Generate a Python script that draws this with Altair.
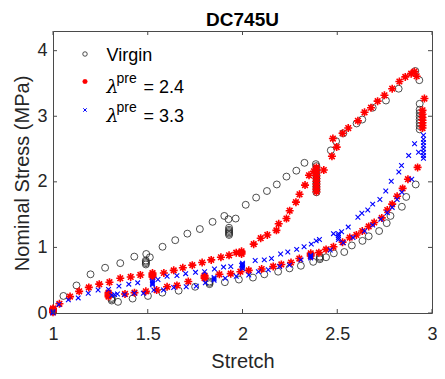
import altair as alt
import pandas as pd

# ---------------- data ----------------
virgin_x = [1.00, 1.055, 1.124, 1.198, 1.275, 1.355, 1.429, 1.492, 1.511,
            1.49, 1.49, 1.49, 1.49,
            1.578, 1.645, 1.709, 1.775, 1.842, 1.904, 1.926, 1.964,
            1.929, 1.929, 1.929, 1.929, 1.929, 1.929,
            2.017, 2.072, 2.129, 2.181, 2.232, 2.284, 2.327, 2.387,
            2.39, 2.39, 2.39, 2.39, 2.39, 2.39, 2.39, 2.39, 2.39, 2.39,
            2.466, 2.494, 2.532, 2.602, 2.632, 2.687, 2.757, 2.824, 2.912, 2.933,
            2.935, 2.935, 2.935, 2.935, 2.935, 2.935, 2.935, 2.935,
            2.914, 2.864, 2.841, 2.781, 2.761, 2.721, 2.666, 2.633, 2.577, 2.537, 2.482, 2.441,
            2.408, 2.408, 2.408,
            2.373, 2.308, 2.248, 2.188, 2.115, 2.055, 1.981, 1.907,
            1.826, 1.826, 1.826,
            1.750, 1.663, 1.577, 1.501, 1.420, 1.343,
            1.31, 1.31, 1.31]
virgin_y = [0.03, 0.26, 0.42, 0.59, 0.69, 0.76, 0.86, 0.90, 0.85,
            0.74, 0.76, 0.78, 0.80,
            1.01, 1.11, 1.21, 1.28, 1.39, 1.48, 1.43, 1.44,
            1.19, 1.21, 1.23, 1.25, 1.27, 1.30,
            1.65, 1.76, 1.86, 1.96, 2.08, 2.17, 2.29, 2.27,
            1.84, 1.88, 1.92, 1.96, 2.00, 2.05, 2.10, 2.15, 2.20, 2.24,
            2.48, 2.62, 2.74, 2.89, 2.95, 3.13, 3.24, 3.42, 3.69, 3.55,
            2.80, 2.85, 2.90, 2.95, 3.00, 3.05, 3.10, 3.19,
            1.96, 1.77, 1.62, 1.48, 1.37, 1.25, 1.17, 1.10, 1.03, 0.93, 0.91, 0.85,
            0.82, 0.84, 0.86,
            0.78, 0.72, 0.68, 0.63, 0.59, 0.54, 0.51, 0.47,
            0.44, 0.46, 0.48,
            0.40, 0.34, 0.31, 0.26, 0.22, 0.17,
            0.19, 0.21, 0.23]

pre24_x = [1.00, 1.00, 1.00, 1.00, 1.034, 1.09, 1.138, 1.189, 1.244, 1.298, 1.355, 1.41, 1.461,
           1.525, 1.525, 1.525, 1.525,
           1.585, 1.637, 1.685, 1.735, 1.787, 1.835, 1.886, 1.929, 1.967,
           1.995, 1.995, 1.995,
           2.059, 2.096, 2.131, 2.179, 2.191, 2.232, 2.249, 2.282, 2.301, 2.33, 2.351, 2.377,
           2.39, 2.39, 2.39, 2.39, 2.39, 2.39, 2.39, 2.39, 2.39, 2.39,
           2.429, 2.472, 2.477, 2.497, 2.528, 2.558, 2.609, 2.644, 2.678, 2.713, 2.749,
           2.790, 2.828, 2.859, 2.890, 2.907, 2.919,
           2.95, 2.95, 2.95, 2.95, 2.95, 2.95, 2.95, 2.96,
           2.924, 2.873, 2.845, 2.816, 2.79, 2.764, 2.735, 2.695, 2.666, 2.632, 2.601,
           2.566, 2.528, 2.48, 2.441, 2.403,
           2.36, 2.36, 2.36,
           2.30, 2.256, 2.205, 2.162, 2.101, 2.033, 1.989, 1.938, 1.878,
           1.80, 1.80, 1.80,
           1.714, 1.654, 1.602, 1.547, 1.49, 1.43, 1.38,
           1.293, 1.293, 1.293, 1.293]
pre24_y = [0.01, 0.03, 0.05, 0.07, 0.14, 0.25, 0.33, 0.39, 0.44, 0.47, 0.53, 0.55, 0.58,
           0.55, 0.57, 0.59, 0.61,
           0.61, 0.65, 0.69, 0.73, 0.77, 0.81, 0.85, 0.88, 0.92,
           0.90, 0.92, 0.94,
           1.05, 1.14, 1.19, 1.26, 1.36, 1.44, 1.56, 1.69, 1.81, 1.95, 2.10, 2.16,
           1.85, 1.89, 1.93, 1.97, 2.01, 2.05, 2.09, 2.13, 2.17, 2.22,
           2.18, 2.39, 2.66, 2.53, 2.74, 2.82, 2.93, 3.06, 3.13, 3.23, 3.32,
           3.42, 3.53, 3.60, 3.65, 3.68, 3.61,
           2.82, 2.86, 2.90, 2.94, 2.98, 3.03, 3.09, 3.27,
           2.22, 2.04, 1.90, 1.78, 1.66, 1.57, 1.45, 1.38, 1.32, 1.25, 1.19,
           1.15, 1.08, 1.01, 0.97, 0.92,
           0.87, 0.89, 0.91,
           0.83, 0.77, 0.74, 0.71, 0.67, 0.65, 0.63, 0.60, 0.59,
           0.53, 0.55, 0.57,
           0.48, 0.42, 0.40, 0.35, 0.33, 0.31, 0.29,
           0.25, 0.27, 0.29, 0.31]

pre33_x = [1.00, 1.00, 1.031, 1.081, 1.133, 1.186, 1.238, 1.293,
           1.31, 1.325, 1.34,
           1.348, 1.40, 1.447,
           1.525, 1.525, 1.525, 1.525,
           1.554, 1.602, 1.654, 1.700, 1.752, 1.80, 1.852, 1.90, 1.938, 1.995,
           2.00, 2.00, 2.00, 2.00, 2.00,
           2.067, 2.115, 2.153, 2.201, 2.239, 2.286, 2.325, 2.363, 2.389, 2.406, 2.48,
           2.506, 2.506, 2.506, 2.506,
           2.523, 2.558, 2.609, 2.630, 2.661, 2.687, 2.725, 2.756, 2.785, 2.825, 2.839,
           2.877, 2.908, 2.929,
           2.955, 2.955, 2.955, 2.955, 2.955, 2.955, 2.955, 2.955,
           2.893, 2.841, 2.816, 2.79, 2.764, 2.730, 2.687, 2.644, 2.583, 2.532, 2.463,
           2.36, 2.36, 2.36,
           2.308, 2.248, 2.196, 2.136, 2.084, 2.033, 1.967, 1.909,
           1.85, 1.85, 1.85,
           1.804, 1.756, 1.703, 1.637, 1.583, 1.532, 1.477, 1.429, 1.377]
pre33_y = [0.00, 0.02, 0.13, 0.20, 0.23, 0.30, 0.35, 0.36,
           0.27, 0.28, 0.29,
           0.41, 0.44, 0.46,
           0.43, 0.45, 0.47, 0.49,
           0.51, 0.56, 0.57, 0.60, 0.62, 0.63, 0.67, 0.70, 0.71, 0.73,
           0.68, 0.70, 0.72, 0.74, 0.76,
           0.80, 0.81, 0.83, 0.90, 0.93, 0.97, 1.01, 1.05, 1.10, 1.12, 1.21,
           1.12, 1.15, 1.18, 1.21,
           1.24, 1.31, 1.46, 1.52, 1.57, 1.66, 1.73, 1.86, 2.01, 2.15, 2.25,
           2.40, 2.58, 2.45,
           2.36, 2.40, 2.45, 2.50, 2.55, 2.60, 2.65, 2.71,
           2.04, 1.84, 1.73, 1.61, 1.53, 1.43, 1.34, 1.25, 1.15, 1.07, 0.96,
           0.84, 0.86, 0.88,
           0.81, 0.73, 0.71, 0.66, 0.63, 0.58, 0.56, 0.53,
           0.50, 0.52, 0.54,
           0.46, 0.41, 0.40, 0.39, 0.35, 0.35, 0.30, 0.30, 0.28]

x_ticks = [1, 1.5, 2, 2.5, 3]
y_ticks = [0, 1, 2, 3, 4]
legend_values = ["2.4", "3.3"]
chart_title = "DC745U"

# ---------------- styling ----------------
FONT = "Liberation Sans"
W, H = 379, 282
AX = "#4a4a4a"
ASTERISK = "M-1,0L1,0M0,-1L0,1M-0.7,-0.7L0.7,0.7M-0.7,0.7L0.7,-0.7"
XMARK = "M-1,-1L1,1M-1,1L1,-1"

xs = alt.Scale(domain=[1, 3], nice=False, zero=False)
ys = alt.Scale(domain=[0, 4.3], nice=False, zero=False)

df_v = pd.DataFrame({"x": virgin_x, "y": virgin_y})
df_r = pd.DataFrame({"x": pre24_x, "y": pre24_y})
df_b = pd.DataFrame({"x": pre33_x, "y": pre33_y})

xaxis = alt.Axis(values=x_ticks, format="~g", grid=False, domain=False, ticks=False, tickSize=0,
                 labelFlush=False, labelOverlap=False, labelPadding=12,
                 labelFont=FONT, labelFontSize=18, labelColor="#262626",
                 title="Stretch", titleFont=FONT, titleFontSize=20,
                 titleFontWeight="normal", titleColor="#262626",
                 titleX=W / 2, titleY=54, titleBaseline="alphabetic", titleAlign="center")
yaxis = alt.Axis(values=y_ticks, format="~g", grid=False, domain=False, ticks=False, tickSize=0,
                 labelFlush=False, labelOverlap=False, labelPadding=6,
                 labelFont=FONT, labelFontSize=18, labelColor="#262626",
                 title="Nominal Stress (MPa)", titleFont=FONT, titleFontSize=20,
                 titleFontWeight="normal", titleColor="#262626",
                 titleX=-25, titleY=142, titleAngle=-90,
                 titleBaseline="alphabetic", titleAlign="center")

virgin = alt.Chart(df_v).mark_point(shape="circle", filled=False, color="#222222",
                                    strokeWidth=0.8, size=48, opacity=1).encode(
    x=alt.X("x:Q", scale=xs, axis=xaxis),
    y=alt.Y("y:Q", scale=ys, axis=yaxis))
red = alt.Chart(df_r).mark_point(shape=ASTERISK, filled=False, color="#ff0000",
                                 strokeWidth=1.6, size=64, opacity=1).encode(
    x=alt.X("x:Q", scale=xs), y=alt.Y("y:Q", scale=ys))
blue = alt.Chart(df_b).mark_point(shape=XMARK, filled=False, color="#0000ff",
                                  strokeWidth=1.1, size=22, opacity=1).encode(
    x=alt.X("x:Q", scale=xs), y=alt.Y("y:Q", scale=ys))

# inward ticks on all four sides
dxt = pd.DataFrame({"t": x_ticks})
dyt = pd.DataFrame({"t": y_ticks})
tick_style = dict(color=AX, strokeWidth=1)
tb = alt.Chart(dxt).mark_rule(**tick_style).encode(
    x=alt.X("t:Q", scale=xs), y=alt.value(H), y2=alt.value(H - 4))
tt = alt.Chart(dxt).mark_rule(**tick_style).encode(
    x=alt.X("t:Q", scale=xs), y=alt.value(0), y2=alt.value(4))
tl = alt.Chart(dyt).mark_rule(**tick_style).encode(
    y=alt.Y("t:Q", scale=ys), x=alt.value(0), x2=alt.value(4))
tr = alt.Chart(dyt).mark_rule(**tick_style).encode(
    y=alt.Y("t:Q", scale=ys), x=alt.value(W), x2=alt.value(W - 4))

# legend (drawn inside the axes, MATLAB style)
one = pd.DataFrame({"k": [0]})
lg_v = alt.Chart(one).mark_point(shape="circle", filled=False, color="#222222",
                                 strokeWidth=0.8, size=20, opacity=1).encode(
    x=alt.value(32), y=alt.value(23))
lg_r = alt.Chart(one).mark_point(shape=ASTERISK, filled=False, color="#ff0000",
                                 strokeWidth=1.4, size=26, opacity=1).encode(
    x=alt.value(32), y=alt.value(50.5))
lg_b = alt.Chart(one).mark_point(shape=XMARK, filled=False, color="#0000ff",
                                 strokeWidth=1.0, size=12, opacity=1).encode(
    x=alt.value(32), y=alt.value(79))


def txt(s, x, y, size=18, font=FONT, style="normal", weight="normal", align="left"):
    return alt.Chart(one).mark_text(align=align, baseline="alphabetic", font=font,
                                    fontSize=size, fontStyle=style, fontWeight=weight,
                                    color="#000000").encode(
        x=alt.value(x), y=alt.value(y), text=alt.value(s))


legend_layers = [lg_v, lg_r, lg_b, txt("Virgin", 53.5, 29.5)]
for i, v in enumerate(legend_values):
    base = 61.5 + 29.5 * i
    legend_layers += [
        txt("λ", 53.5, base, 19, "DejaVu Serif", "italic"),
        txt("pre", 63.5, base - 10, 14),
        txt("= " + v, 90.5, base),
    ]

title_layer = txt(chart_title, W / 2, -5.5, 19, FONT, "normal", "bold", "center")

chart = alt.layer(virgin, red, blue, tb, tt, tl, tr, *legend_layers, title_layer).properties(
    width=W, height=H,
    autosize="none",
    padding={"left": 45, "top": 23, "right": 5, "bottom": 58},
).configure_view(stroke=AX, strokeWidth=1)

chart.save("out.html", embed_options={"renderer": "svg", "actions": False})
